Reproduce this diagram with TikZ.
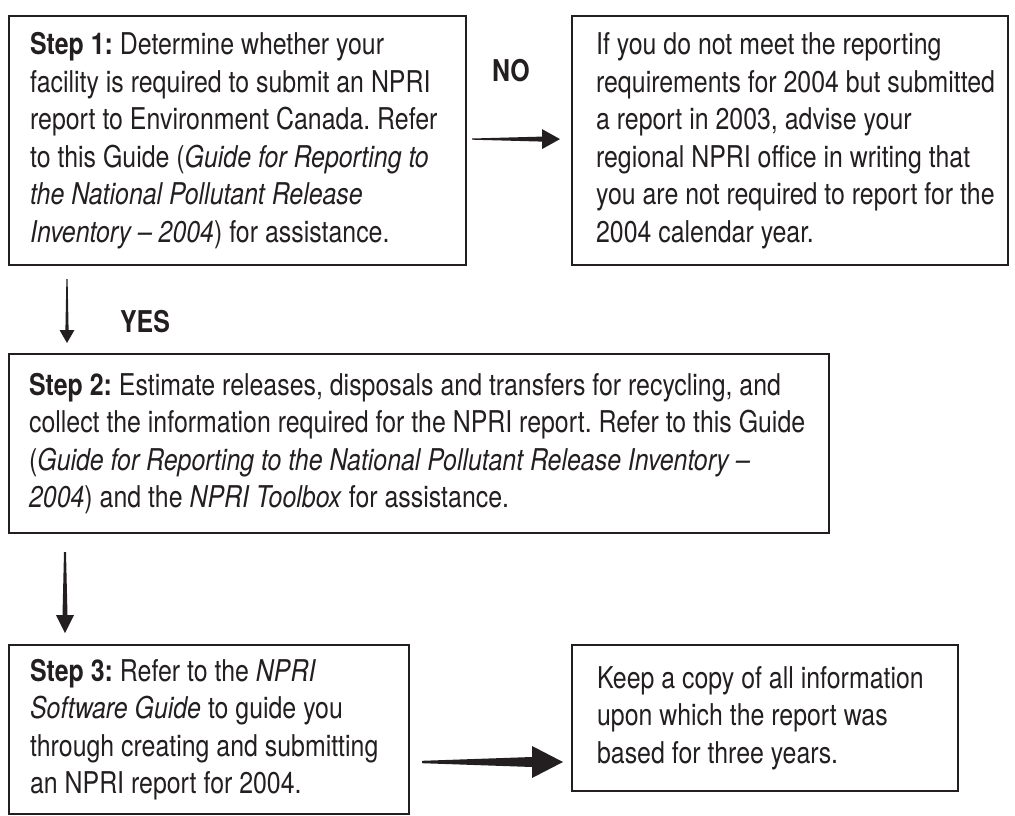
\documentclass[tikz,border=0pt]{standalone}
\usepackage{fontspec}
\setmainfont{TeX Gyre Heros}[FakeStretch=0.83]
\usetikzlibrary{calc}
\definecolor{ink}{HTML}{231F20}
\begin{document}
\begin{tikzpicture}[x=1pt,y=-1pt,
  box/.style={draw=ink, line width=2.2pt, text=ink, align=flush left, anchor=north west,
    inner xsep=4pt, inner ysep=0pt, font=\fontsize{30}{37.5}\selectfont\frenchspacing},
  pad/.style={execute at begin node={\leftskip=#1\relax}},
  lbl/.style={text=ink, inner sep=0pt, font=\fontsize{30}{37.5}\selectfont\bfseries},
  arrowfill/.style={fill=ink, draw=none}]
\useasboundingbox (0,0) rectangle (1015,816);

\node[box, pad=17pt, text width=449pt, minimum height=249pt] (b1) at (8,15)
  {\textbf{Step 1:} Determine whether your\\
   facility is required to submit an NPRI\\
   report to Environment Canada. Refer\\
   to this Guide (\textit{Guide for Reporting to}\\
   \textit{the National Pollutant Release}\\
   \textit{Inventory – 2004}) for assistance.};

\node[box, pad=20pt, text width=428pt, minimum height=249pt] (b2) at (571,15)
  {If you do not meet the reporting\\
   requirements for 2004 but submitted\\
   a report in 2003, advise your\\
   regional NPRI office in writing that\\
   you are not required to report for the\\
   2004 calendar year.};

\node[box, pad=16pt, text width=812pt, minimum height=179pt] (b3) at (8,353)
  {\textbf{Step 2:} Estimate releases, disposals and transfers for recycling, and\\
   collect the information required for the NPRI report. Refer to this Guide\\
   (\textit{Guide for Reporting to the National Pollutant Release Inventory –}\\
   \textit{2004}) and the \textit{NPRI Toolbox} for assistance.};

\node[box, pad=17pt, text width=392pt, minimum height=169pt] (b4) at (8,644)
  {\textbf{Step 3:} Refer to the \textit{NPRI}\\
   \textit{Software Guide} to guide you\\
   through creating and submitting\\
   an NPRI report for 2004.};

\node[box, pad=21pt, text width=378pt, minimum height=146pt] (b5) at (571,644)
  {Keep a copy of all information\\
   upon which the report was\\
   based for three years.};

\node[lbl] (no) at (511,71) {NO};
\node[lbl] (yes) at (145,322) {YES};

% NO arrow
\coordinate (n1s) at ($(b1.east)+(5,-1.5)$);
\coordinate (n1e) at ($(b1.east -| b2.west)+(-11,-1.5)$);
\fill[arrowfill] ($(n1s)+(0,-0.6)$) -- ($(n1e)+(-18,-2.5)$) -- ($(n1e)+(-18,-10)$) -- (n1e)
  -- ($(n1e)+(-18,10)$) -- ($(n1e)+(-18,2.5)$) -- ($(n1s)+(0,0.6)$) -- cycle;

% YES arrow (down)
\coordinate (d1s) at ($(b1.south west)+(59,13)$);
\coordinate (d1e) at ($(b3.north west)+(59,-10)$);
\fill[arrowfill] ($(d1s)+(-0.6,0)$) -- ($(d1e)+(-1.6,-13)$) -- ($(d1e)+(-7.5,-13)$) -- (d1e)
  -- ($(d1e)+(7.5,-13)$) -- ($(d1e)+(1.6,-13)$) -- ($(d1s)+(0.6,0)$) -- cycle;

% step2 -> step3 arrow (down)
\coordinate (d2s) at ($(b3.south west)+(57,18)$);
\coordinate (d2e) at ($(b4.north west)+(57,-11)$);
\fill[arrowfill] ($(d2s)+(-1,0)$) -- ($(d2e)+(-2.5,-18)$) -- ($(d2e)+(-9,-18)$) -- (d2e)
  -- ($(d2e)+(9,-18)$) -- ($(d2e)+(2.5,-18)$) -- ($(d2s)+(1,0)$) -- cycle;

% step3 -> keep arrow
\coordinate (h2s) at ($(b4.north east)+(12,118)$);
\coordinate (h2e) at ($(b4.north east -| b5.west)+(-8,118)$);
\fill[arrowfill] ($(h2s)+(0,-1.2)$) -- ($(h2e)+(-31,-5)$) -- ($(h2e)+(-31,-16)$) -- (h2e)
  -- ($(h2e)+(-31,16)$) -- ($(h2e)+(-31,5)$) -- ($(h2s)+(0,1.2)$) -- cycle;
\end{tikzpicture}
\end{document}
